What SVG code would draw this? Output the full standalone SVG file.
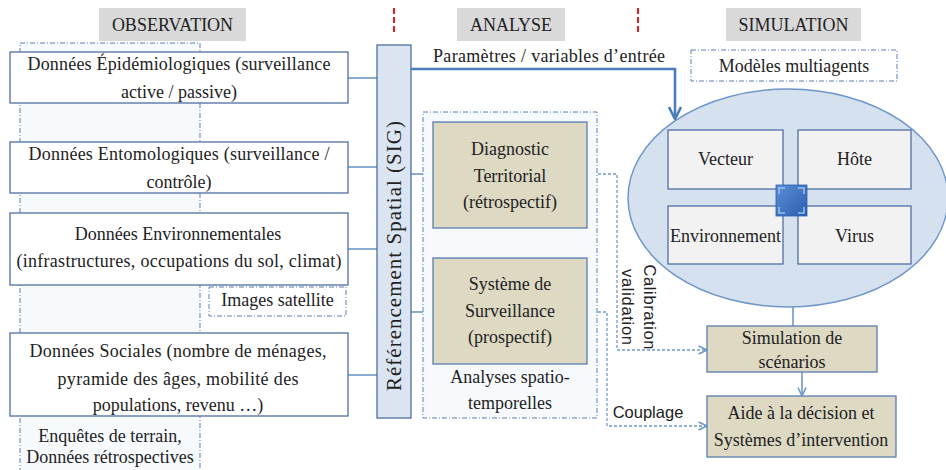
<svg xmlns="http://www.w3.org/2000/svg" width="946" height="470" viewBox="0 0 946 470">
<style>
.t{font-family:'Liberation Serif','DejaVu Serif',serif;font-size:18px;fill:#222;text-anchor:middle}
.s{font-family:'Liberation Sans',Arial,sans-serif;font-size:16.5px;fill:#222;text-anchor:middle}
.hdr{fill:#d9d9d9}
.box{fill:#fff;stroke:#4f6fa0;stroke-width:1.3}
.beige{fill:#ddd9c3;stroke:#5a7db0;stroke-width:1.3}
.inner{fill:#f2f2f2;stroke:#4f6fa0;stroke-width:1.3}
.dd{fill:#f7fafd;stroke:#5b7fb5;stroke-width:1;stroke-dasharray:5 2 1 2}
.ddw{fill:#fff;stroke:#5b7fb5;stroke-width:1;stroke-dasharray:5 2 1 2}
.ln{fill:none;stroke:#6f98cc;stroke-width:1.6}
.dash{fill:none;stroke:#6f98cc;stroke-width:1.3;stroke-dasharray:3 2}
.red{stroke:#e02020;stroke-width:2;stroke-dasharray:6 3}
</style>
<defs>
<marker id="chev" viewBox="0 0 10 10" refX="9.5" refY="5" markerWidth="10" markerHeight="10" markerUnits="userSpaceOnUse" orient="auto-start-reverse">
<path d="M1,1 L9.5,5 L1,9" fill="none" stroke="#6f98cc" stroke-width="1.6"/>
</marker>
<marker id="big" viewBox="0 0 14 14" refX="13" refY="7" markerWidth="14" markerHeight="14" markerUnits="userSpaceOnUse" orient="auto">
<path d="M1,1 L13,7 L1,13" fill="none" stroke="#4a7ebb" stroke-width="2.6"/>
</marker>
<linearGradient id="ig" x1="0" y1="0" x2="1" y2="1">
<stop offset="0" stop-color="#5a8ed6"/>
<stop offset="1" stop-color="#2b5fae"/>
</linearGradient>
</defs>

<g font-family="Liberation Serif, DejaVu Serif, serif">
<!-- headers -->
<g id="header-observation"><rect class="hdr" x="99" y="8" width="147" height="33"/><text class="t" x="172.5" y="31">OBSERVATION</text></g>
<g id="header-analyse"><rect class="hdr" x="457" y="8" width="108" height="33"/><text class="t" x="511" y="31">ANALYSE</text></g>
<g id="header-simulation"><rect class="hdr" x="726" y="8" width="135" height="33"/><text class="t" x="793.5" y="31">SIMULATION</text></g>
<line class="red" x1="394" y1="8" x2="394" y2="35"/>
<line class="red" x1="638" y1="8" x2="638" y2="35"/>

<!-- observation column -->
<g id="obs-column">
<rect class="dd" x="20" y="43" width="180" height="430"/>
<text class="t" x="110" y="442">Enquêtes de terrain,</text>
<text class="t" x="110" y="463">Données rétrospectives</text>
</g>

<!-- connectors -->
<g id="connectors">
<line class="ln" x1="348" y1="78" x2="377" y2="78"/>
<line class="ln" x1="348" y1="167" x2="377" y2="167"/>
<line class="ln" x1="348" y1="249" x2="377" y2="249"/>
<line class="ln" x1="348" y1="375" x2="377" y2="375"/>
<path d="M411,69 H675 V119" fill="none" stroke="#4a7ebb" stroke-width="2.6" marker-end="url(#big)"/>
<line class="ln" x1="411" y1="174" x2="433" y2="174" marker-end="url(#chev)"/>
<line class="ln" x1="411" y1="312" x2="433" y2="312" marker-end="url(#chev)"/>
<path class="dash" d="M588,174 H617 V350 H707" marker-start="url(#chev)" marker-end="url(#chev)"/>
<path class="dash" d="M588,312 H607 V426 H707" marker-start="url(#chev)" marker-end="url(#chev)"/>
<line class="ln" x1="793" y1="306" x2="793" y2="326"/>
<line class="ln" x1="802" y1="372" x2="802" y2="396" marker-end="url(#chev)"/>
<text class="t" x="549" y="62" textLength="232" lengthAdjust="spacing">Paramètres / variables  d’entrée</text>
<text class="s" transform="translate(644,307) rotate(90)" textLength="85" lengthAdjust="spacing">Calibration</text>
<text class="s" transform="translate(622,307) rotate(90)" textLength="76" lengthAdjust="spacing">validation</text>
<text class="s" x="648" y="418">Couplage</text>
</g>

<!-- observation boxes -->
<g id="node-epidemio"><rect class="box" x="10" y="52" width="338" height="51"/>
<text class="t" x="179" y="70" textLength="303" lengthAdjust="spacing">Données Épidémiologiques  (surveillance</text>
<text class="t" x="179" y="98">active / passive)</text></g>
<g id="node-entomo"><rect class="box" x="10" y="142" width="338" height="51"/>
<text class="t" x="179" y="160" textLength="301" lengthAdjust="spacing">Données Entomologiques (surveillance  /</text>
<text class="t" x="179" y="188">contrôle)</text></g>
<g id="node-environ"><rect class="box" x="10" y="213" width="338" height="72"/>
<text class="t" x="178" y="240">Données Environnementales</text>
<text class="t" x="179" y="267" textLength="325" lengthAdjust="spacing">(infrastructures, occupations du sol, climat)</text></g>
<g id="node-images"><rect class="ddw" x="209" y="287" width="137" height="29"/>
<text class="t" x="277.5" y="306" font-size="17">Images  satellite</text></g>
<g id="node-sociales"><rect class="box" x="10" y="333" width="338" height="83"/>
<text class="t" x="178" y="357" textLength="297" lengthAdjust="spacing">Données Sociales (nombre de ménages,</text>
<text class="t" x="178" y="385" textLength="241" lengthAdjust="spacing">pyramide des âges, mobilité  des</text>
<text class="t" x="178" y="411">populations, revenu  …)</text></g>

<!-- SIG -->
<g id="node-sig"><rect x="377" y="45" width="34" height="373" fill="#dbe5f1" stroke="#4f6fa0" stroke-width="1.3"/>
<text class="t" font-size="21" style="font-size:21px" transform="translate(401,256) rotate(-90)" textLength="270" lengthAdjust="spacing">Référencement Spatial (SIG)</text></g>

<!-- analyse -->
<g id="analyse-group"><rect class="dd" x="423" y="112" width="174" height="306"/>
<text class="t" x="510" y="383">Analyses spatio-</text>
<text class="t" x="510" y="409">temporelles</text></g>
<g id="node-diagnostic"><rect class="beige" x="433" y="122" width="154" height="106"/>
<text class="t" x="510" y="155">Diagnostic</text>
<text class="t" x="510" y="182">Territorial</text>
<text class="t" x="510" y="208">(rétrospectif)</text></g>
<g id="node-surveillance"><rect class="beige" x="433" y="258" width="154" height="106"/>
<text class="t" x="510" y="290">Système de</text>
<text class="t" x="510" y="317">Surveillance</text>
<text class="t" x="510" y="343">(prospectif)</text></g>

<!-- simulation -->
<g id="node-modeles"><rect class="ddw" x="691" y="50" width="206" height="31"/>
<text class="t" x="794" y="72">Modèles multiagents</text></g>
<g id="node-ellipse"><ellipse cx="788" cy="198" rx="160" ry="109" fill="#d6e1f0" stroke="#6f96c8" stroke-width="1.5"/></g>
<g id="node-vecteur"><rect class="inner" x="668" y="130" width="115" height="59"/><text class="t" x="725.5" y="165">Vecteur</text></g>
<g id="node-hote"><rect class="inner" x="798" y="130" width="113" height="59"/><text class="t" x="854.5" y="165">Hôte</text></g>
<g id="node-environnement"><rect class="inner" x="668" y="206" width="115" height="58"/><text class="t" x="725.5" y="242">Environnement</text></g>
<g id="node-virus"><rect class="inner" x="798" y="206" width="113" height="58"/><text class="t" x="854.5" y="242">Virus</text></g>
<g id="node-icon"><rect x="776" y="185" width="31" height="31" fill="url(#ig)" stroke="#2b5fae" stroke-width="0.8"/>
<path d="M779,194 L779,188 L785,188 M798,188 L804,188 L804,194 M804,207 L804,213 L798,213 M785,213 L779,213 L779,207" fill="none" stroke="#9cc0ee" stroke-width="1.5"/></g>
<g id="node-scenarios"><rect class="beige" x="707" y="326" width="170" height="46"/>
<text class="t" x="792" y="344">Simulation  de</text>
<text class="t" x="792" y="368">scénarios</text></g>
<g id="node-aide"><rect class="beige" x="707" y="396" width="189" height="61"/>
<text class="t" x="801" y="419">Aide à la décision et</text>
<text class="t" x="801" y="446">Systèmes d’intervention</text></g>
</g>
</svg>
